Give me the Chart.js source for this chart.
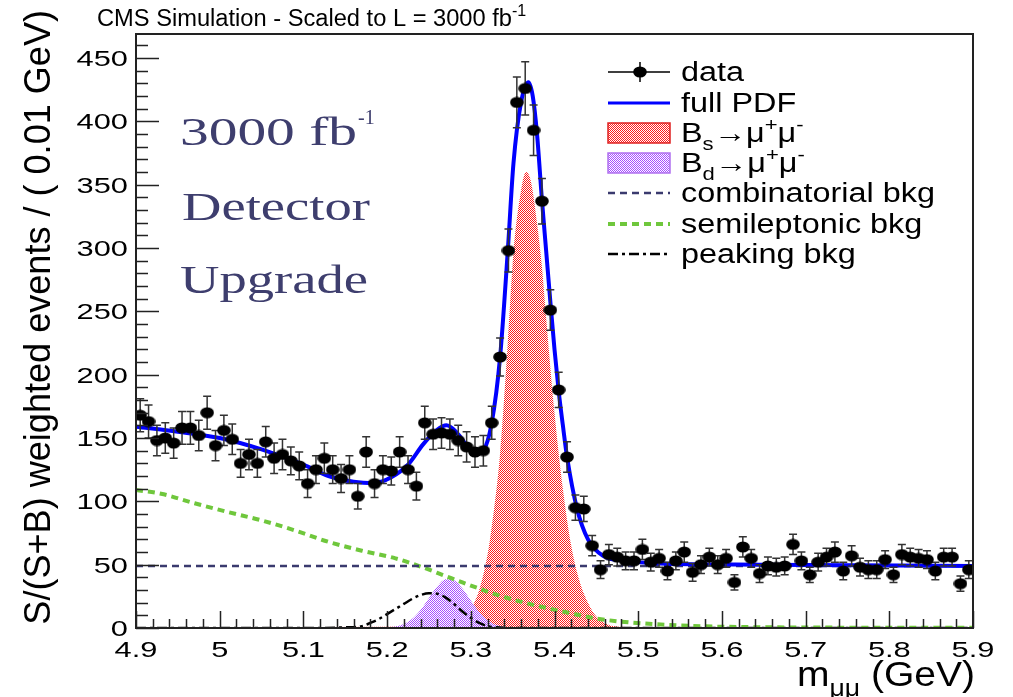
<!DOCTYPE html>
<html><head><meta charset="utf-8">
<script src="https://cdn.jsdelivr.net/npm/chart.js@4/dist/chart.umd.min.js"></script>
<style>html,body{margin:0;padding:0;background:#fff;}#wrap{width:1013px;height:697px;}</style>
</head><body><div id="wrap"><canvas id="c" width="1013" height="697"></canvas></div>
<script>
// ---------------- data ----------------
const massMin = 4.9, massMax = 5.9, binWidth = 0.01;
const dataCounts = [168,163,148,150,146,158,158,152,170,144,156,149,130,137,130,147,134,137,132,128,
  114,125,134,125,118,125,104,139,114,125,124,139,125,112,162,153,154,153,148,143,
  139,140,162,214,298,415,426,393,337,251,188,135,95,94,65,46,58,56,53,53,
  62,52,55,45,53,60,44,50,56,50,55,36,64,55,43,49,48,49,66,53,
  42,52,56,60,45,57,48,46,46,54,42,58,56,55,54,45,56,56,35,46];
const dataErrors = [13,13,12,12,12,13,13,12,13,12,12,12,11,12,11,12,12,12,11,11,
  11,11,12,11,11,11,10,12,11,11,11,12,11,11,13,12,12,12,12,12,
  12,12,13,15,17,20,21,20,18,16,14,12,10,10,8,7,8,7,7,7,
  8,7,7,7,7,8,7,7,7,7,7,6,8,7,7,7,7,7,8,7,
  6,7,7,8,7,8,7,7,7,7,6,8,7,7,7,7,7,7,6,7];
const binCenters = dataCounts.map((_, i) => +(massMin + binWidth * (i + 0.5)).toFixed(3));

const pdfMass  = [4.90,4.95,5.00,5.05,5.10,5.13,5.16,5.185,5.205,5.225,5.243,5.259,5.271,5.283,5.299,5.307,5.315,5.325,5.335,5.344,5.351,5.36,5.369,5.374,5.379,5.385,5.39,5.395,5.40,5.405,5.41,5.415,5.427,5.44,5.458,5.486,5.526,5.646,5.9];
const pdfValue = [159,155,150,141,129,120,115.5,114.5,119,129,145,156,160,154.5,141,137.5,140,162,214,296,367,415,431,420,391,338,298,258,220,187,160,135,94,70,57,53,51,50,49];

const bsMass  = [4.90,5.20,5.25,5.28,5.29,5.30,5.31,5.32,5.325,5.335,5.344,5.351,5.36,5.366,5.372,5.38,5.385,5.39,5.40,5.41,5.42,5.43,5.44,5.45,5.46,5.47,5.50,5.90];
const bsValue = [0.5,1,1.5,3,7,15,30,58,80,138,223,296,345,360,352,315,285,245,170,110,65,37,20,9,4,1.5,0.5,0];

const bdMass  = [4.90,5.18,5.20,5.21,5.22,5.23,5.24,5.25,5.26,5.27,5.28,5.29,5.30,5.31,5.32,5.33,5.34,5.36,5.90];
const bdValue = [0,0.2,0.4,1.1,3.1,7.3,14.3,23.7,32.9,38.5,37.8,31.2,21.7,12.7,6.2,2.6,0.9,0.1,0];

const combMass  = [4.90,5.90];
const combValue = [49,49];

const semiMass  = [4.90,4.93,4.97,5.01,5.05,5.09,5.13,5.17,5.21,5.24,5.27,5.29,5.33,5.37,5.41,5.45,5.48,5.52,5.56,5.60,5.70,5.80,5.90];
const semiValue = [109,106,98.5,91.5,85,77,68,61,55,48.5,41,36,26.5,19,13,7.5,5,3,1.8,1,0.4,0.2,0.1];

const peakMass  = [4.90,5.10,5.15,5.17,5.18,5.19,5.20,5.21,5.22,5.23,5.24,5.25,5.26,5.27,5.28,5.29,5.30,5.31,5.32,5.33,5.35,5.90];
const peakValue = [0,0,0.5,1.5,4,7,11,15,19,23,26,27.5,27,24,19,13,8,4,1.5,0.5,0,0];

const yMax = 469;
const yTickValues = [0,50,100,150,200,250,300,350,400,450];
const xTickValues = [4.9,5.0,5.1,5.2,5.3,5.4,5.5,5.6,5.7,5.8,5.9];
const xTickLabels = ['4.9','5','5.1','5.2','5.3','5.4','5.5','5.6','5.7','5.8','5.9'];

// ---------------- helpers ----------------
const canvas = document.getElementById('c');
const ctx0 = canvas.getContext('2d');
function checker(color){
  const c = document.createElement('canvas'); c.width = 2; c.height = 2;
  const g = c.getContext('2d'); g.fillStyle = color; g.fillRect(0,0,1,1); g.fillRect(1,1,1,1);
  return ctx0.createPattern(c, 'repeat');
}
const redFill = checker('#ff1a1a');
const purpleFill = checker('#a64dff');
const marker = (() => {
  const c = document.createElement('canvas'); c.width = 14; c.height = 12;
  const g = c.getContext('2d'); g.fillStyle = '#000';
  g.beginPath(); g.ellipse(7,6,6.8,5.6,0,0,Math.PI*2); g.fill(); return c;
})();
const pts = (xs, ys) => xs.map((x, i) => ({x, y: ys[i]}));
const SANS = '"Liberation Sans", Arial, Helvetica, sans-serif';

function rich(c, parts, x, y, size, sx, align, color, family){
  family = family || SANS;
  c.save(); c.fillStyle = color || '#000'; c.textAlign = 'left'; c.textBaseline = 'alphabetic';
  const segs = parts.map(p => {
    const s = p.sub || p.sup ? size * 0.68 : size;
    c.font = s + 'px ' + family;
    return {t: p.t, s, w: c.measureText(p.t).width, dy: p.sub ? size*0.28 : (p.sup ? -size*0.42 : 0)};
  });
  const total = segs.reduce((a, s) => a + s.w, 0) * sx;
  let cx = align === 'right' ? x - total : align === 'center' ? x - total/2 : x;
  for (const s of segs){
    c.save(); c.font = s.s + 'px ' + family; c.translate(cx, y + s.dy); c.scale(sx, 1);
    c.fillText(s.t, 0, 0); c.restore(); cx += s.w * sx;
  }
  c.restore(); return total;
}
function widthOf(c, parts, size, family){
  family = family || SANS; let w = 0;
  for (const p of parts){ c.font = (p.sub||p.sup ? size*0.68 : size) + 'px ' + family; w += c.measureText(p.t).width; }
  return w;
}

// ---------------- plugins ----------------
const errorBars = {
  id: 'errorBars',
  beforeDatasetDraw(chart, args){
    if (args.index !== 0) return;
    const {ctx, scales:{x, y}} = chart;
    ctx.save(); ctx.strokeStyle = '#333'; ctx.lineWidth = 1.5;
    binCenters.forEach((m, i) => {
      const px = x.getPixelForValue(m);
      const y1 = y.getPixelForValue(dataCounts[i] + dataErrors[i]);
      const y2 = y.getPixelForValue(dataCounts[i] - dataErrors[i]);
      ctx.beginPath();
      ctx.moveTo(px, y1); ctx.lineTo(px, y2);
      ctx.moveTo(px-4, y1); ctx.lineTo(px+4, y1);
      ctx.moveTo(px-4, y2); ctx.lineTo(px+4, y2);
      ctx.stroke();
    });
    ctx.restore();
  }
};

const rootDecor = {
  id: 'rootDecor',
  afterDraw(chart){
    const {ctx, chartArea:a, scales:{x, y}} = chart;
    ctx.save();
    // frame
    ctx.strokeStyle = '#222'; ctx.lineWidth = 2;
    ctx.strokeRect(a.left, a.top, a.right - a.left, a.bottom - a.top);
    // ticks
    ctx.lineWidth = 1.5; ctx.beginPath();
    for (let v = 0; v <= yMax + 0.01; v += 10){
      const py = Math.round(y.getPixelForValue(v)) + 0.5;
      const len = (v % 50 === 0) ? 23 : 12;
      ctx.moveTo(a.left, py); ctx.lineTo(a.left + len, py);
    }
    for (let k = 0; k <= 50; k++){
      const v = massMin + k * 0.02;
      const px = Math.round(x.getPixelForValue(v)) + 0.5;
      const len = (k % 5 === 0) ? 17 : 9;
      ctx.moveTo(px, a.bottom); ctx.lineTo(px, a.bottom - len);
    }
    ctx.stroke();
    // tick labels
    const tickSize = 22, tickSx = 1.4;
    yTickValues.forEach(v => rich(ctx, [{t:String(v)}], 128, y.getPixelForValue(v) + 8, tickSize, tickSx, 'right'));
    xTickValues.forEach((v, i) => rich(ctx, [{t:xTickLabels[i]}], x.getPixelForValue(v), 657, tickSize, tickSx, 'center'));
    // axis titles
    const yTitle = [{t:'S/(S+B) weighted events / ( 0.01 GeV)'}];
    const ySize = 35 * 615 / widthOf(ctx, yTitle, 35);
    ctx.save(); ctx.translate(50, 10); ctx.rotate(-Math.PI/2);
    rich(ctx, yTitle, 0, 0, ySize, 1, 'right');
    ctx.restore();
    const xTitle = [{t:'m'},{t:'\u03bc\u03bc', sub:true},{t:' (GeV)'}];
    rich(ctx, xTitle, 975, 686, 35, 178 / widthOf(ctx, xTitle, 35), 'right');
    // title
    const tSx = 415 / widthOf(ctx, [{t:'CMS Simulation - Scaled to L = 3000 fb'}], 23);
    rich(ctx, [{t:'CMS Simulation - Scaled to L = 3000 fb'},{t:'-1', sup:true}], 97, 26, 23, tSx, 'left');
    // legend
    const L0 = 608, L1 = 670, TX = 681, lSize = 27, lSx = 1.2;
    const rows = [72, 103, 133, 163, 193, 224, 254];
    ctx.strokeStyle = '#000'; ctx.lineWidth = 1.5; ctx.setLineDash([]);
    ctx.beginPath(); ctx.moveTo(L0, rows[0]); ctx.lineTo(L1, rows[0]);
    ctx.moveTo(640, rows[0]-10); ctx.lineTo(640, rows[0]+10); ctx.stroke();
    ctx.drawImage(marker, 633, rows[0]-6);
    ctx.strokeStyle = '#0000ff'; ctx.lineWidth = 3;
    ctx.beginPath(); ctx.moveTo(L0, rows[1]); ctx.lineTo(L1, rows[1]); ctx.stroke();
    ctx.fillStyle = redFill; ctx.fillRect(L0, rows[2]-10, L1-L0, 20);
    ctx.strokeStyle = '#e02020'; ctx.lineWidth = 1.5; ctx.strokeRect(L0, rows[2]-10, L1-L0, 20);
    ctx.fillStyle = purpleFill; ctx.fillRect(L0, rows[3]-10, L1-L0, 20);
    ctx.strokeStyle = '#b070f0'; ctx.strokeRect(L0, rows[3]-10, L1-L0, 20);
    ctx.strokeStyle = '#3a3a6e'; ctx.lineWidth = 2.5; ctx.setLineDash([7,5]);
    ctx.beginPath(); ctx.moveTo(L0, rows[4]); ctx.lineTo(L1, rows[4]); ctx.stroke();
    ctx.strokeStyle = '#6fc73c'; ctx.lineWidth = 4; ctx.setLineDash([7,5]);
    ctx.beginPath(); ctx.moveTo(L0, rows[5]); ctx.lineTo(L1, rows[5]); ctx.stroke();
    ctx.strokeStyle = '#000'; ctx.lineWidth = 2.5; ctx.setLineDash([10,4,3,4]);
    ctx.beginPath(); ctx.moveTo(L0, rows[6]); ctx.lineTo(L1, rows[6]); ctx.stroke();
    ctx.setLineDash([]);
    const labels = [
      [{t:'data'}],
      [{t:'full PDF'}],
      [{t:'B'},{t:'s',sub:true},{t:'\u2192\u03bc'},{t:'+',sup:true},{t:'\u03bc'},{t:'-',sup:true}],
      [{t:'B'},{t:'d',sub:true},{t:'\u2192\u03bc'},{t:'+',sup:true},{t:'\u03bc'},{t:'-',sup:true}],
      [{t:'combinatorial bkg'}],
      [{t:'semileptonic bkg'}],
      [{t:'peaking bkg'}]
    ];
    labels.forEach((p, i) => rich(ctx, p, TX, rows[i] + 9, lSize, lSx, 'left'));
    // annotation
    const SERIF = '"Liberation Serif", "Times New Roman", serif';
    const col = '#3e3e6e';
    const a1 = [{t:'3000 fb'}];
    rich(ctx, a1, 180, 145, 40, 177 / widthOf(ctx, a1, 40, SERIF), 'left', col, SERIF);
    rich(ctx, [{t:'-1'}], 358, 124, 20, 1, 'left', col, SERIF);
    const a2 = [{t:'Detector'}];
    rich(ctx, a2, 182, 220, 40, 188 / widthOf(ctx, a2, 40, SERIF), 'left', col, SERIF);
    const a3 = [{t:'Upgrade'}];
    rich(ctx, a3, 180, 293, 40, 188 / widthOf(ctx, a3, 40, SERIF), 'left', col, SERIF);
    ctx.restore();
  }
};

// ---------------- chart ----------------
new Chart(canvas, {
  type: 'scatter',
  data: {
    datasets: [
      { label:'data', data: pts(binCenters, dataCounts), pointStyle: marker, pointRadius: 6, showLine:false, order:1 },
      { label:'full PDF', data: pts(pdfMass, pdfValue), showLine:true, borderColor:'#0000ff', borderWidth:4, pointRadius:0, cubicInterpolationMode:'monotone', fill:false, order:2 },
      { label:'combinatorial bkg', data: pts(combMass, combValue), showLine:true, borderColor:'#3a3a6e', borderWidth:2.5, borderDash:[7,5], pointRadius:0, fill:false, order:3 },
      { label:'semileptonic bkg', data: pts(semiMass, semiValue), showLine:true, borderColor:'#6fc73c', borderWidth:4, borderDash:[7,5], pointRadius:0, cubicInterpolationMode:'monotone', fill:false, order:4 },
      { label:'peaking bkg', data: pts(peakMass, peakValue), showLine:true, borderColor:'#000', borderWidth:2.5, borderDash:[10,4,3,4], pointRadius:0, cubicInterpolationMode:'monotone', fill:false, order:5 },
      { label:'Bd', data: pts(bdMass, bdValue), showLine:true, borderColor:'rgba(0,0,0,0)', borderWidth:0, backgroundColor: purpleFill, pointRadius:0, cubicInterpolationMode:'monotone', fill:'origin', order:6 },
      { label:'Bs', data: pts(bsMass, bsValue), showLine:true, borderColor:'rgba(0,0,0,0)', borderWidth:0, backgroundColor: redFill, pointRadius:0, cubicInterpolationMode:'monotone', fill:'origin', order:7 }
    ]
  },
  options: {
    responsive:false, animation:false, devicePixelRatio:1,
    layout: { padding: { left:136, right:40, top:34, bottom:69 } },
    plugins: { legend:{display:false}, title:{display:false}, tooltip:{enabled:false} },
    scales: {
      x: { type:'linear', min:massMin, max:massMax, display:false },
      y: { type:'linear', min:0, max:yMax, display:false }
    }
  },
  plugins: [errorBars, rootDecor]
});
</script></body></html>
